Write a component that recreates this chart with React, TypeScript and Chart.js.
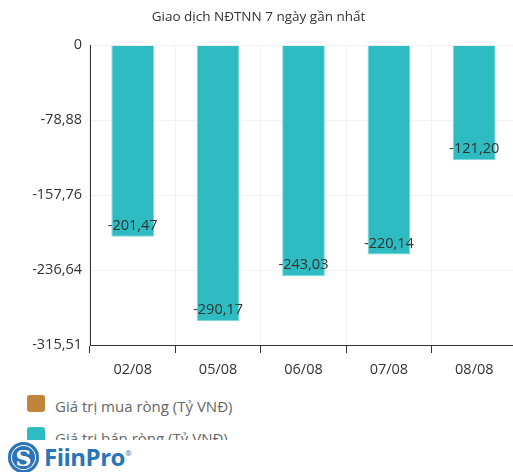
import React, { useEffect, useRef } from "react";
import { Chart, registerables } from "chart.js";

Chart.register(...registerables);

const titleText = "Giao dịch NĐTNN 7 ngày gần nhất";
const categories = ["02/08", "05/08", "06/08", "07/08", "08/08"];
const buyValues: (number | null)[] = [null, null, null, null, null];
const sellValues = [-201.47, -290.17, -243.03, -220.14, -121.2];
const yTickValues = [0, -78.88, -157.76, -236.64, -315.51];
const legendLabels = ["Giá trị mua ròng (Tỷ VNĐ)", "Giá trị bán ròng (Tỷ VNĐ)"];

const BUY_COLOR = "#C0843A";
const SELL_COLOR = "#2EBBC2";
const FONT = "'Open Sans', 'Noto Sans', sans-serif";

const fmt = (v: number) =>
  v.toLocaleString("vi-VN", { minimumFractionDigits: v === 0 ? 0 : 2, maximumFractionDigits: 2 });

const valueLabelPlugin = {
  id: "valueLabels",
  afterDatasetsDraw(chart: any) {
    const ctx = chart.ctx;
    const meta = chart.getDatasetMeta(1);
    ctx.save();
    ctx.font = `14.5px ${FONT}`;
    ctx.fillStyle = "#333333";
    ctx.textAlign = "center";
    ctx.textBaseline = "middle";
    meta.data.forEach((bar: any, i: number) => {
      const v = sellValues[i];
      ctx.fillText(fmt(v), bar.x, bar.y - 11);
    });
    ctx.restore();
  },
};

function ChartCanvas() {
  const ref = useRef<HTMLCanvasElement>(null);
  useEffect(() => {
    if (!ref.current) return;
    const chart = new Chart(ref.current, {
      type: "bar",
      data: {
        labels: categories,
        datasets: [
          {
            label: legendLabels[0],
            data: buyValues,
            backgroundColor: BUY_COLOR,
            categoryPercentage: 1,
            barPercentage: 0.5,
          },
          {
            label: legendLabels[1],
            data: sellValues,
            backgroundColor: SELL_COLOR,
            borderColor: "#7FD5D9",
            borderWidth: 1,
            categoryPercentage: 1,
            barPercentage: 0.5,
          },
        ],
      },
      options: {
        responsive: false,
        animation: false,
        layout: { padding: { left: 0, right: 21, top: 0, bottom: 0 } },
        plugins: {
          legend: { display: false },
          tooltip: { enabled: false },
          title: {
            display: true,
            text: titleText,
            color: "#333333",
            font: { family: FONT, size: 13.5, weight: "normal" },
            padding: { top: 9, bottom: 20 },
          },
        },
        scales: {
          x: {
            stacked: true,
            grid: {
              offset: true,
              color: "#F2F2F2",
              drawTicks: true,
              tickLength: 8,
              tickColor: "#333333",
            },
            border: { display: true, color: "#333333", width: 1 },
            ticks: {
              color: "#333333",
              font: { family: FONT, size: 14.5 },
              padding: 8,
            },
            afterFit: (s: any) => {
              s.height = 40;
            },
          },
          y: {
            stacked: true,
            min: yTickValues[yTickValues.length - 1],
            max: yTickValues[0],
            grid: { color: "#F2F2F2", drawTicks: false },
            border: { display: true, color: "#333333", width: 1 },
            ticks: {
              color: "#333333",
              font: { family: FONT, size: 14.5 },
              padding: 8,
              callback: (v: any) => fmt(Number(v)),
            },
            afterBuildTicks: (s: any) => {
              s.ticks = yTickValues.map((v) => ({ value: v }));
            },
            afterFit: (s: any) => {
              s.width = 90;
            },
          },
        },
      },
      plugins: [valueLabelPlugin],
    });
    return () => chart.destroy();
  }, []);
  return <canvas ref={ref} width={538} height={385} style={{ display: "block" }} />;
}

export default function App() {
  return (
    <div
      style={{
        position: "fixed",
        left: 0,
        top: 0,
        width: 513,
        height: 472,
        overflow: "hidden",
        background: "#fff",
        fontFamily: FONT,
      }}
    >
      <ChartCanvas />
      <div style={{ position: "absolute", left: 27, top: 395, width: 480 }}>
        {legendLabels.map((l, i) => (
          <div key={l} style={{ display: "flex", alignItems: "center", height: 17, marginBottom: 15 }}>
            <div
              style={{
                width: 18,
                height: 17,
                borderRadius: 3,
                background: i === 0 ? BUY_COLOR : SELL_COLOR,
                marginRight: 10,
              }}
            />
            <span style={{ fontSize: 15, color: "#666666", whiteSpace: "nowrap", position: "relative", top: 2 }}>{l}</span>
          </div>
        ))}
      </div>
      <div
        style={{
          position: "absolute",
          left: 0,
          top: 440,
          width: 513,
          height: 32,
          background: "#fff",
          display: "flex",
          alignItems: "flex-end",
        }}
      >
        <div
          style={{
            marginLeft: 8,
            marginBottom: -1,
            width: 31,
            height: 31,
            borderRadius: "50%",
            background: "#2B74B8",
            color: "#fff",
            display: "flex",
            alignItems: "center",
            justifyContent: "center",
            fontFamily: "'DejaVu Serif', serif",
            fontWeight: "bold",
            fontSize: 22,
            boxShadow: "inset 0 0 0 3px #2B74B8, inset 0 0 0 4px #fff",
          }}
        >
          S
        </div>
        <span
          style={{
            marginLeft: 5,
            marginBottom: 0,
            lineHeight: "30px",
            color: "#2B74B8",
            fontWeight: "bold",
            fontSize: 24,
            fontFamily: "'Open Sans', sans-serif",
            letterSpacing: -0.5,
          }}
        >
          FiinPro
        </span>
        <sup style={{ color: "#2B74B8", fontSize: 8, alignSelf: "flex-start", marginTop: 7 }}>®</sup>
      </div>
    </div>
  );
}
